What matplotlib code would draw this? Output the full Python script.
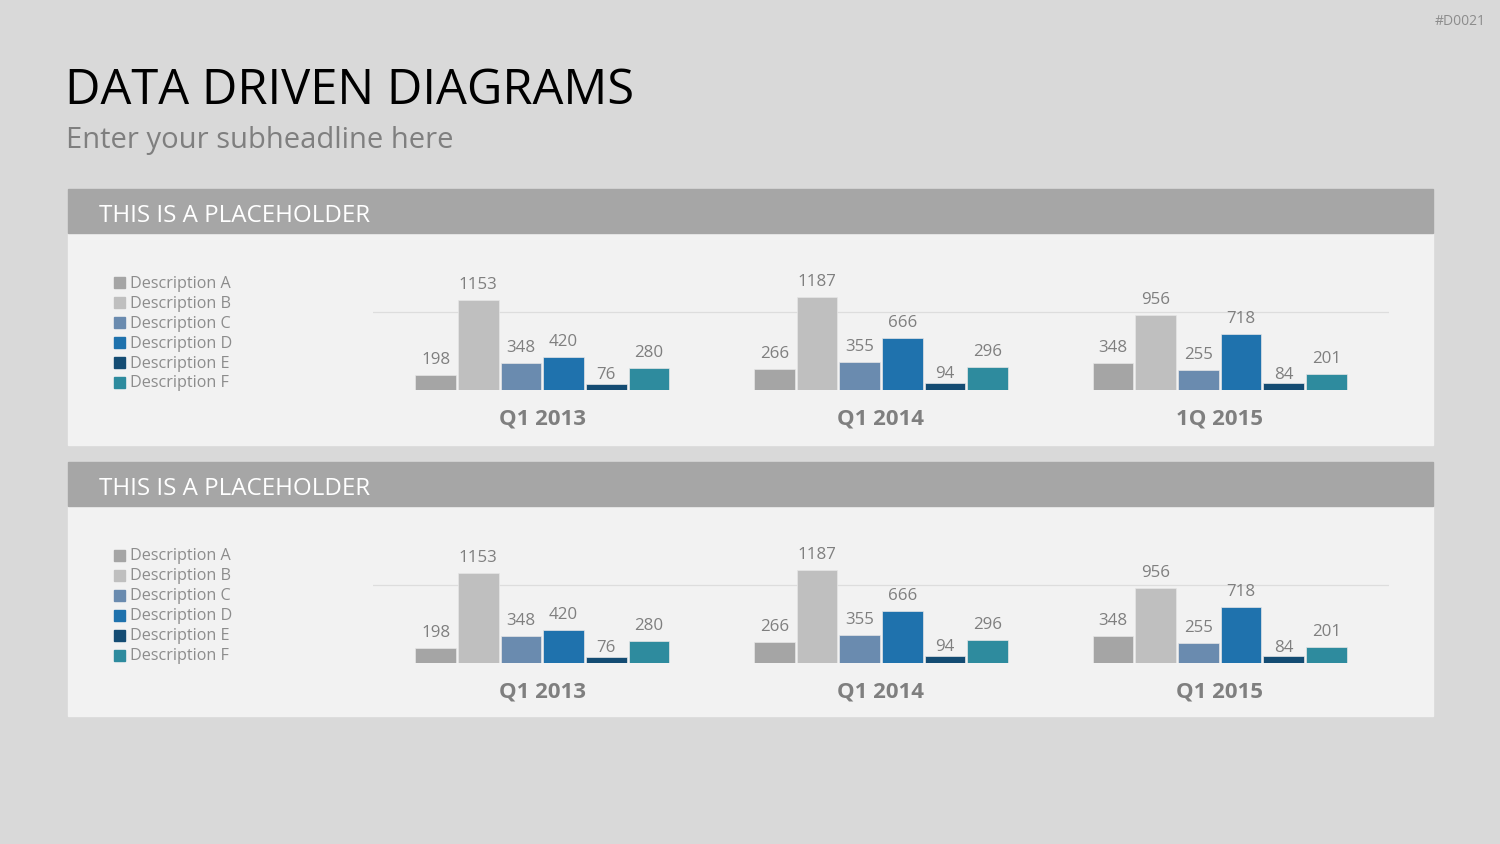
import matplotlib.pyplot as plt
from matplotlib.patches import Rectangle

plt.rcParams['font.family'] = ['Open Sans', 'DejaVu Sans']

# data
series = ["Description A", "Description B", "Description C",
          "Description D", "Description E", "Description F"]
colors = ["#A5A5A5", "#BFBFBF", "#6A8BAF", "#1F72AD", "#144C73", "#2E8B9E"]
desc_a = [198, 266, 348]
desc_b = [1153, 1187, 956]
desc_c = [348, 355, 255]
desc_d = [420, 666, 718]
desc_e = [76, 94, 84]
desc_f = [280, 296, 201]
values = [desc_a, desc_b, desc_c, desc_d, desc_e, desc_f]
quarters_top = ["Q1 2013", "Q1 2014", "1Q 2015"]
quarters_bottom = ["Q1 2013", "Q1 2014", "Q1 2015"]

W, H = 1500, 844


def fx(px):
    return px / W


def fy(py):
    return 1 - py / H


fig = plt.figure(figsize=(15, 8.44), dpi=100, facecolor="#D9D9D9")

fig.text(fx(65), fy(104), "DATA DRIVEN DIAGRAMS", fontsize=35.2, color="#000000", va="baseline")
fig.text(fx(66), fy(148), "Enter your subheadline here", fontsize=21, color="#7F7F7F", va="baseline")
fig.text(fx(1486), fy(25), "#D0021", fontsize=10, color="#8C8C8C", ha="right", va="baseline")


def panel(top, bottom, quarters):
    # panel background and header
    fig.add_artist(Rectangle((fx(68), fy(bottom)), (1433 - 68) / W, (bottom - top - 44) / H,
                             transform=fig.transFigure, color="#F2F2F2", zorder=-2))
    fig.add_artist(Rectangle((fx(68), fy(top + 44)), (1433 - 68) / W, 44 / H,
                             transform=fig.transFigure, color="#A6A6A6", zorder=-2))
    fig.text(fx(99), fy(top + 33), "THIS IS A PLACEHOLDER", fontsize=17.4,
             color="white", va="baseline")

    # legend
    for i, (name, c) in enumerate(zip(series, colors)):
        y = top + 88 + 20 * i
        fig.add_artist(Rectangle((fx(114), fy(y + 11)), 11 / W, 11 / H,
                                 transform=fig.transFigure, color=c, zorder=1))
        fig.text(fx(130), fy(y + 10.5), name, fontsize=11.6, color="#8C8C8C", va="baseline")

    base = top + 201
    ax = fig.add_axes([fx(373), fy(base), 1016 / W, 109.2 / H])
    ax.set_facecolor("none")
    for s in ax.spines.values():
        s.set_visible(False)
    ax.axhline(1000, color="#DDDDDD", lw=0.9, zorder=0)
    ax.axhline(-20, color="#D6D6D6", lw=2.3, zorder=1)

    slot = 0.126
    for i, (vals, c) in enumerate(zip(values, colors)):
        xs = [k + (i - 2.5) * slot for k in range(3)]
        bars = ax.bar(xs, vals, width=0.12, color=c, edgecolor="#E6E6E6",
                      linewidth=0.5, zorder=2)
        off = 0.5 if i == 4 else 5
        for b, v in zip(bars, vals):
            ax.annotate(str(v), (b.get_x() + b.get_width() / 2, v), xytext=(0, off),
                        textcoords="offset points", ha="center", va="bottom",
                        fontsize=12.2, color="#7F7F7F", annotation_clip=False)

    ax.set_xlim(-0.5, 2.5)
    ax.set_ylim(0, 1400)
    ax.set_yticks([])
    ax.set_xticks(range(3))
    ax.set_xticklabels(quarters, fontsize=16, fontweight="bold", color="#7F7F7F")
    ax.tick_params(axis="x", length=0, pad=13.5)


panel(189, 445, quarters_top)
panel(462, 716, quarters_bottom)

fig.savefig("out.png", dpi=100, facecolor=fig.get_facecolor())
